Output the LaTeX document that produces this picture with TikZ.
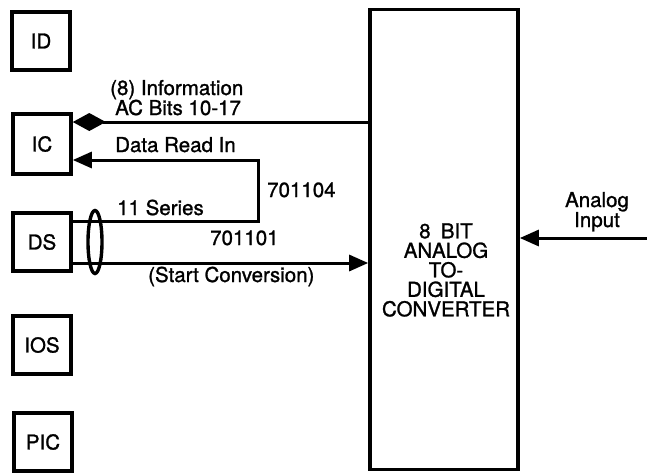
\documentclass[tikz,border=0pt]{standalone}
\usepackage{fontspec}
\setmainfont[FakeBold=1.2]{TeX Gyre Heros}
\usetikzlibrary{arrows.meta,shapes.geometric}
\begin{document}
\begin{tikzpicture}[x=1pt,y=-1pt,
  font=\fontsize{20.5}{18}\selectfont,
  unit/.style={draw,line width=3.6pt,minimum width=58pt,minimum height=58pt,inner sep=0pt},
  wire/.style={line width=3pt},
  lbl/.style={anchor=base west,inner sep=0pt},
  tri/.style={-{Triangle[length=19pt,width=16pt]}},
  dia/.style={-{Diamond[length=33pt,width=18pt]}}]
\useasboundingbox (0,0) rectangle (647,475);
% left units
\node[unit] (ID)  at (41,41)  {ID};
\node[unit,minimum height=60pt] (IC)  at (42,144) {IC};
\node[unit] (DS)  at (42,242) {DS};
\node[unit] (IOS) at (42,345) {IOS};
\node[unit] (PIC) at (43,442) {PIC};
% converter
\node[draw,line width=3.6pt,minimum width=148pt,minimum height=460pt,inner sep=0pt] (ADC) at (444,239.5) {};
\node[align=center,inner sep=0pt,font=\fontsize{20.5}{19.5}\selectfont] (ADCt) at (446,270)
  {8\enspace BIT\\ANALOG\\TO-\\DIGITAL\\CONVERTER};
% coordinates
\coordinate (c1) at (258,221);
\coordinate (c2) at (258,160);
\coordinate (ain) at (647,238);
% connectors
\draw[wire,dia] (ADC.west |- 0,122) -- (IC.east |- 0,122);
\draw[wire,tri] (DS.east |- c1) -- (c1) -- (c2) -- (IC.east |- c2);
\draw[wire,tri] (DS.east |- 0,263) -- (ADC.west |- 0,263);
\draw[wire,tri] (ain) -- (ADC.east |- ain);
\node[draw,ellipse,line width=3.4pt,minimum width=14pt,minimum height=63pt,inner sep=0pt] (cable) at (95,242) {};
% labels
\node[lbl] (t1) at (110,95)  {(8) Information};
\node[lbl] (t2) at (115,115) {AC Bits 10-17};
\node[lbl] (t3) at (115,152) {Data Read In};
\node[lbl] (t4) at (267,197) {701104};
\node[lbl] (t5) at (117,215) {11 Series};
\node[lbl] (t6) at (210,245) {701101};
\node[lbl] (t7) at (148,282) {(Start Conversion)};
\node[anchor=base,inner sep=0pt] (t8) at (597,207) {Analog};
\node[anchor=base,inner sep=0pt] (t9) at (597,227) {Input};
\end{tikzpicture}
\end{document}
